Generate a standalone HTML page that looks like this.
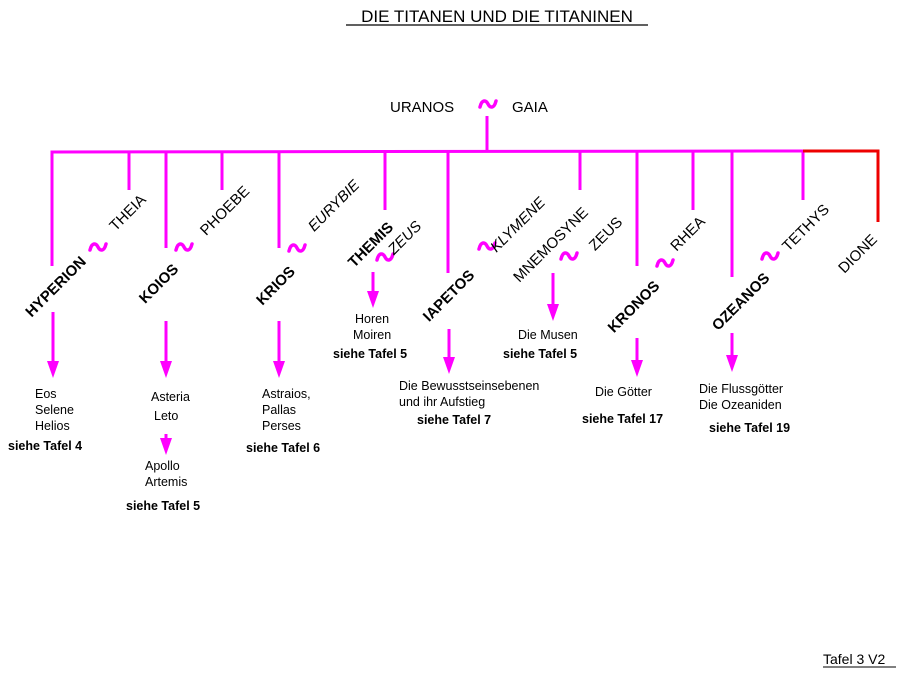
<!DOCTYPE html>
<html><head><meta charset="utf-8"><style>
html,body{margin:0;padding:0;background:#fff;}
svg{display:block;}
text{font-family:"Liberation Sans",Arial,sans-serif;fill:#000;}
.n{font-size:15px;}
.b{font-size:15px;font-weight:bold;}
.s{font-size:12.5px;}
.sb{font-size:12.5px;font-weight:bold;}
</style></head><body>
<svg width="905" height="676" viewBox="0 0 905 676" xmlns="http://www.w3.org/2000/svg">
<defs>
<path id="tl" d="M-8,3 C-6,-5 -2,-4 0,0 C2,4 6,5 8,-3" stroke="#f0f" stroke-width="3.5" fill="none" stroke-linecap="round"/>
</defs>
<text x="497" y="22" text-anchor="middle" style="font-size:17px">DIE TITANEN UND DIE TITANINEN</text>
<line x1="346" y1="25" x2="648" y2="25" stroke="#000" stroke-width="1.2"/>

<text x="390" y="112" style="font-size:15px">URANOS</text>
<use href="#tl" x="488" y="104"/>
<text x="512" y="112" style="font-size:15px">GAIA</text>

<g stroke="#f0f" stroke-width="3" fill="none">
<line x1="487" y1="116" x2="487" y2="152"/>
<polyline points="52,266 52,152 803,151"/>
<line x1="129" y1="152" x2="129" y2="190"/>
<line x1="166" y1="152" x2="166" y2="248"/>
<line x1="222" y1="152" x2="222" y2="190"/>
<line x1="279" y1="152" x2="279" y2="248"/>
<line x1="385" y1="152" x2="385" y2="210"/>
<line x1="448" y1="152" x2="448" y2="273"/>
<line x1="580" y1="152" x2="580" y2="190"/>
<line x1="637" y1="152" x2="637" y2="266"/>
<line x1="693" y1="152" x2="693" y2="210"/>
<line x1="732" y1="152" x2="732" y2="277"/>
<line x1="803" y1="151" x2="803" y2="200"/>
<line x1="53" y1="312" x2="53" y2="364"/>
<line x1="166" y1="321" x2="166" y2="364"/>
<line x1="279" y1="321" x2="279" y2="364"/>
<line x1="373" y1="272" x2="373" y2="294"/>
<line x1="449" y1="329" x2="449" y2="360"/>
<line x1="553" y1="273" x2="553" y2="306"/>
<line x1="637" y1="338" x2="637" y2="362"/>
<line x1="732" y1="333" x2="732" y2="358"/>
<line x1="166" y1="434" x2="166" y2="442"/>
</g>
<polyline points="803,151 878,151 878,222" stroke="#e00" stroke-width="3" fill="none"/>
<g fill="#f0f">
<polygon points="47,361 59,361 53,378"/>
<polygon points="160,361 172,361 166,378"/>
<polygon points="273,361 285,361 279,378"/>
<polygon points="367,291 379,291 373,308"/>
<polygon points="443,357 455,357 449,374"/>
<polygon points="547,304 559,304 553,321"/>
<polygon points="631,360 643,360 637,377"/>
<polygon points="726,355 738,355 732,372"/>
<polygon points="160,438 172,438 166,455"/>
</g>

<use href="#tl" x="98" y="247"/>
<use href="#tl" x="184" y="247"/>
<use href="#tl" x="297" y="248"/>
<use href="#tl" x="385" y="257"/>
<use href="#tl" x="487" y="246"/>
<use href="#tl" x="569" y="256"/>
<use href="#tl" x="665" y="263"/>
<use href="#tl" x="770" y="256"/>

<g text-anchor="middle" dominant-baseline="central">
<text class="b" transform="translate(56,287) rotate(-45)">HYPERION</text>
<text class="n" transform="translate(128,213) rotate(-45)">THEIA</text>
<text class="b" transform="translate(159,284) rotate(-45)">KOIOS</text>
<text class="n" transform="translate(225,211) rotate(-45)">PHOEBE</text>
<text class="b" transform="translate(276,286) rotate(-45)">KRIOS</text>
<text class="n" style="font-style:italic" transform="translate(334,206) rotate(-45)">EURYBIE</text>
<text class="b" transform="translate(371,245) rotate(-45)">THEMIS</text>
<text class="n" style="font-style:italic" transform="translate(405,238) rotate(-45)">ZEUS</text>
<text class="b" transform="translate(449,296) rotate(-45)">IAPETOS</text>
<text class="n" style="font-style:italic" transform="translate(518,225) rotate(-45)">KLYMENE</text>
<text class="n" transform="translate(551,245) rotate(-45)">MNEMOSYNE</text>
<text class="n" transform="translate(606,234) rotate(-45)">ZEUS</text>
<text class="b" transform="translate(634,307) rotate(-45)">KRONOS</text>
<text class="n" transform="translate(688,234) rotate(-45)">RHEA</text>
<text class="b" transform="translate(741,302) rotate(-45)">OZEANOS</text>
<text class="n" transform="translate(806,228) rotate(-45)">TETHYS</text>
<text class="n" transform="translate(858,254) rotate(-45)">DIONE</text>
</g>

<text x="35" y="398" class="s">Eos</text>
<text x="35" y="414" class="s">Selene</text>
<text x="35" y="430" class="s">Helios</text>
<text x="8" y="450" class="sb">siehe Tafel 4</text>

<text x="151" y="401" class="s">Asteria</text>
<text x="154" y="420" class="s">Leto</text>
<text x="145" y="470" class="s">Apollo</text>
<text x="145" y="486" class="s">Artemis</text>
<text x="126" y="510" class="sb">siehe Tafel 5</text>

<text x="262" y="398" class="s">Astraios,</text>
<text x="262" y="414" class="s">Pallas</text>
<text x="262" y="430" class="s">Perses</text>
<text x="246" y="452" class="sb">siehe Tafel 6</text>

<text x="355" y="323" class="s">Horen</text>
<text x="353" y="339" class="s">Moiren</text>
<text x="333" y="358" class="sb">siehe Tafel 5</text>

<text x="399" y="390" class="s">Die Bewusstseinsebenen</text>
<text x="399" y="406" class="s">und ihr Aufstieg</text>
<text x="417" y="424" class="sb">siehe Tafel 7</text>

<text x="518" y="339" class="s">Die Musen</text>
<text x="503" y="358" class="sb">siehe Tafel 5</text>

<text x="595" y="396" class="s">Die Götter</text>
<text x="582" y="423" class="sb">siehe Tafel 17</text>

<text x="699" y="393" class="s">Die Flussgötter</text>
<text x="699" y="409" class="s">Die Ozeaniden</text>
<text x="709" y="432" class="sb">siehe Tafel 19</text>

<text x="823" y="664" style="font-size:14px">Tafel 3 V2</text>
<line x1="823" y1="667" x2="896" y2="667" stroke="#000" stroke-width="1"/>
</svg>
</body></html>
